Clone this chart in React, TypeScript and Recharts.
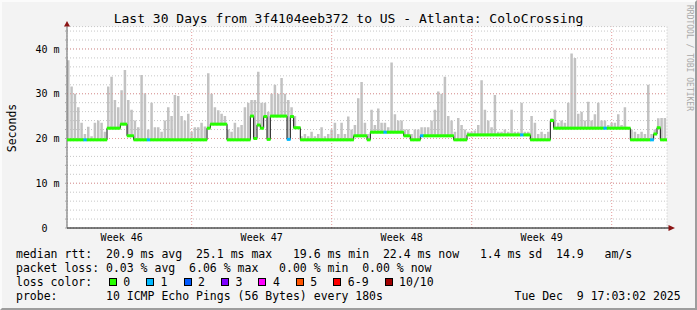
import React from 'react';
import { ComposedChart, Bar, Line, XAxis, YAxis, CartesianGrid, ReferenceLine, ReferenceDot } from 'recharts';

const mono = '"DejaVu Sans Mono", monospace';

// 30 days, one slot every 4 hours
const DAYS = 30;
const SLOTS_PER_DAY = 6;
const FIRST_MIDNIGHT = 0.235; // day offset of first midnight after the start

// median rtt per slot (ms)
const medianRtt = [
  19.7, 19.7, 19.7, 19.7, 19.7, 19.7, 19.7, 19.7, 19.7, 19.7, 19.7, 19.7,
  22.3, 22.3, 22.3, 22.3, 23.2, 23.2, 20.6, 20.6, 19.7, 19.7, 19.7, 19.7,
  19.7, 19.7, 19.7, 19.7, 19.7, 19.7, 19.7, 19.7, 19.7, 19.7, 19.7, 19.7,
  19.7, 19.7, 19.7, 19.7, 19.7, 19.7, 22.3, 23.2, 23.2, 23.2, 23.2, 23.2,
  19.7, 19.7, 19.7, 19.7, 19.7, 19.7, 19.7, 25.0, 20.0, 23.0, 22.3, 24.9,
  19.8, 25.0, 25.0, 25.0, 25.0, 25.0, 19.8, 24.9, 22.4, 22.4, 19.7, 19.7,
  19.7, 19.7, 19.7, 19.7, 19.7, 19.7, 19.7, 19.7, 19.7, 19.7, 19.7, 19.7,
  19.7, 19.7, 20.6, 20.6, 20.6, 20.6, 19.7, 21.4, 21.4, 21.4, 21.4, 21.4,
  21.4, 21.4, 21.4, 21.4, 21.4, 20.6, 20.6, 19.7, 19.7, 19.7, 20.6, 20.6,
  20.6, 20.6, 20.6, 20.6, 20.6, 20.6, 20.6, 20.6, 19.7, 19.7, 19.7, 19.7,
  20.8, 20.8, 20.8, 20.8, 20.8, 20.8, 20.8, 20.8, 20.8, 20.8, 20.8, 20.8,
  20.8, 20.8, 20.8, 20.8, 20.8, 20.8, 20.8, 19.7, 19.7, 19.7, 19.7, 19.7,
  19.7, 24.0, 22.3, 22.3, 22.3, 22.3, 22.3, 22.3, 22.3, 22.3, 22.3, 22.3,
  22.3, 22.3, 22.3, 22.3, 22.3, 22.3, 22.3, 22.3, 22.3, 22.3, 22.3, 22.3,
  22.3, 19.7, 19.7, 19.7, 19.7, 19.7, 19.7, 19.7, 21.0, 22.4, 19.7, 19.7,
];

// max ping per slot (top of the smoke)
const smokeMax = [
  37.5, 31.6, 30, 27, 23.5, 21, 22.6, 20.5, 23.5, 24, 23.5, 21.5,
  31.6, 33.8, 28.6, 27, 30.8, 35.3, 28.6, 26.4, 24, 22.5, 34.2, 30.1,
  22, 28, 22.5, 22.5, 21.5, 24, 27, 25, 29.7, 29.5, 25, 24,
  25.5, 21.5, 22.5, 22.5, 23.5, 22.7, 34.6, 30, 27, 26.3, 25.5, 25,
  22, 21.5, 23.5, 22.5, 23, 27, 28, 28.6, 28.6, 34.9, 28, 28,
  26, 30, 32, 30, 33.5, 30, 28.6, 27, 25, 22.5, 20.5, 21,
  20.5, 21.5, 20.5, 21, 22.5, 20.5, 21, 22, 23.5, 21, 23.5, 21,
  24.9, 22, 23, 29, 32.6, 23.5, 21, 26.4, 23, 26.7, 23.5, 23.5,
  22.5, 37, 25.4, 24, 24, 22, 22, 21, 22, 22, 22.5, 22.5,
  22.5, 24, 26.4, 30.5, 30, 33.8, 25, 24, 21.5, 24.6, 23, 22,
  21.5, 21.5, 21.8, 23, 33, 26.4, 24, 22.5, 29.7, 21.5, 21.5, 22,
  21.5, 26.4, 21.5, 21.5, 28, 21.5, 21.5, 25, 23.5, 21, 21.5, 21,
  21.5, 24.5, 26.4, 23.5, 24, 23.5, 28, 39, 38, 25.5, 26, 24,
  28.2, 24, 25.4, 28, 24, 24, 23, 23.5, 23.5, 25.4, 23, 27,
  22.5, 22, 21.5, 21, 21.5, 21, 32, 21, 22, 24.5, 24.6, 24.6,
];

// slots where 1 of 10 pings was lost
const lossOneSlots = [5, 24, 66, 95, 106, 136, 161, 175];

const weekLabels = ['Week 46', 'Week 47', 'Week 48', 'Week 49'];
const yTicks = [0, 2, 4, 6, 8, 10, 12, 14, 16, 18, 20, 22, 24, 26, 28, 30, 32, 34, 36, 38, 40, 42, 44];
const yMajor = [10, 20, 30, 40];

const lossLegend = [
  { label: '0', color: '#26ff00' },
  { label: '1', color: '#00b8ff' },
  { label: '2', color: '#0059ff' },
  { label: '3', color: '#7e00ff' },
  { label: '4', color: '#ff00ff' },
  { label: '5', color: '#ff5500' },
  { label: '6-9', color: '#ff0000' },
  { label: '10/10', color: '#a10000' },
];

const statsRtt = 'median rtt:  20.9 ms avg  25.1 ms max   19.6 ms min  22.4 ms now   1.4 ms sd  14.9   am/s';
const statsLoss = 'packet loss: 0.03 % avg  6.06 % max   0.00 % min  0.00 % now';
const probeText = 'probe:       10 ICMP Echo Pings (56 Bytes) every 180s                   Tue Dec  9 17:03:02 2025';

const dayTicks = Array.from({ length: DAYS }, (_, k) => FIRST_MIDNIGHT + k);
const weekStarts = [6, 13, 20, 27].map((d) => FIRST_MIDNIGHT + d);
const weekMids = weekStarts.map((d) => d - 3.5);

const rows = medianRtt.map((m, i) => ({
  t: (i + 0.5) / SLOTS_PER_DAY,
  median: m,
  smoke: [m, smokeMax[i]],
  loss: lossOneSlots.includes(i) ? 1 : 0,
}));

function renderYTick(props: any) {
  const { x, y, payload } = props;
  const v = payload.value;
  if (v % 10 !== 0) return <g />;
  const label = v === 0 ? '0  ' : `${v} m`;
  return (
    <text x={x} y={y} dy="0.355em" textAnchor="end" xmlSpace="preserve" style={{ whiteSpace: 'pre' }}
      fontSize={10} fontFamily={mono} fill="#000">
      {label}
    </text>
  );
}

function renderMedianDot(props: any) {
  const { cx, cy, payload, index } = props;
  return (
    <rect key={index} x={cx - 1.9} y={cy - 1.5} width={3.8} height={3}
      fill={lossLegend[payload.loss].color} />
  );
}

export default function App() {
  return (
    <div style={{
      position: 'absolute', left: 0, top: 0, width: 697, height: 310, boxSizing: 'border-box',
      background: '#f3f3f3', borderTop: '2px solid #fbfbfb', borderLeft: '2px solid #fbfbfb',
      borderRight: '2px solid #9d9d9d', borderBottom: '2px solid #9d9d9d', fontFamily: mono, color: '#000',
    }}>
      <ComposedChart width={697} height={310} data={rows}
        margin={{ top: 26.6, right: 30, bottom: 59, left: 0 }}
        style={{ position: 'absolute', left: -2, top: -2 }}>
        <CartesianGrid xAxisId="day" stroke="#c6c6c6" strokeDasharray="1 2" fill="#ffffff" />
        <XAxis xAxisId="day" dataKey="t" type="number" domain={[0, DAYS]} ticks={dayTicks} interval={0}
          tick={false} tickSize={2} height={3} allowDataOverflow
          axisLine={{ stroke: '#000' }} tickLine={{ stroke: '#aaa' }} />
        <XAxis xAxisId="wk" dataKey="t" type="number" domain={[0, DAYS]} ticks={weekMids} interval={0}
          allowDataOverflow
          tickFormatter={(_v: number, i: number) => weekLabels[i]} axisLine={false} tickLine={false}
          tickSize={0} tickMargin={3} height={20} tick={{ fontSize: 10, fontFamily: mono, fill: '#000' }} />
        <YAxis type="number" domain={[0, 45]} ticks={yTicks} interval={0} width={67} tickSize={2}
          tickMargin={5.5} tick={renderYTick} allowDataOverflow
          axisLine={{ stroke: '#666' }} tickLine={{ stroke: '#aaa' }} />
        {weekStarts.map((d) => (
          <ReferenceLine key={`w${d}`} xAxisId="day" x={d} stroke="#e49a9a" strokeDasharray="1 2" />
        ))}
        {yMajor.map((v) => (
          <ReferenceLine key={`y${v}`} xAxisId="day" y={v} stroke="#e49a9a" strokeDasharray="1 2" />
        ))}
        <Bar xAxisId="day" dataKey="smoke" fill="#c2c2c2" barSize={2.5} isAnimationActive={false} />
        <Line xAxisId="day" dataKey="median" type="step" stroke="#111" strokeWidth={1}
          dot={false} activeDot={false} isAnimationActive={false} />
        <Line xAxisId="day" dataKey="median" stroke="none" strokeWidth={0}
          dot={renderMedianDot} activeDot={false} isAnimationActive={false} />
        <ReferenceDot xAxisId="day" x={0} y={45} r={0} ifOverflow="visible"
          shape={(p: any) => (
            <path d={`M${p.cx - 3},${p.cy} L${p.cx + 3},${p.cy} L${p.cx},${p.cy - 5.5} Z`} fill="#8b1414" />
          )} />
        <ReferenceDot xAxisId="day" x={DAYS} y={0} r={0} ifOverflow="visible"
          shape={(p: any) => (
            <g>
              <line x1={p.cx} y1={p.cy} x2={p.cx + 2} y2={p.cy} stroke="#000" />
              <path d={`M${p.cx + 1.5},${p.cy - 3} L${p.cx + 1.5},${p.cy + 3} L${p.cx + 8},${p.cy} Z`} fill="#8b1414" />
            </g>
          )} />
      </ComposedChart>

      <div style={{ position: 'absolute', left: -2, top: 9, width: 697, textAlign: 'center', fontSize: 13, lineHeight: '16px', whiteSpace: 'pre' }}>
        Last 30 Days from 3f4104eeb372 to US - Atlanta: ColoCrossing
      </div>

      <div style={{
        position: 'absolute', left: 11.5 - 50 - 2, top: 127.5 - 7 - 2, width: 100, height: 14,
        lineHeight: '14px', fontSize: 11.5, textAlign: 'center', transform: 'rotate(-90deg)',
      }}>
        Seconds
      </div>

      <div style={{
        position: 'absolute', left: 682, top: 3, writingMode: 'vertical-rl', fontSize: 8,
        color: '#a8a8a8', whiteSpace: 'pre', lineHeight: '10px',
      }}>
        RRDTOOL / TOBI OETIKER
      </div>

      <div style={{ position: 'absolute', left: 14, top: 245, fontSize: 11.5, lineHeight: '14.1px', whiteSpace: 'pre' }}>
        <div>{statsRtt}</div>
        <div>{statsLoss}</div>
        <div style={{ display: 'flex', alignItems: 'center', height: 14.1 }}>
          <span style={{ marginRight: 16.5 }}>loss color:</span>
          {lossLegend.map((e) => (
            <span key={e.label} style={{ display: 'flex', alignItems: 'center', marginRight: 16 }}>
              <span style={{
                display: 'inline-block', width: 8, height: 8, boxSizing: 'border-box',
                border: '1px solid #000', background: e.color, marginRight: 6.5,
              }} />
              <span>{e.label}</span>
            </span>
          ))}
        </div>
        <div>{probeText}</div>
      </div>
    </div>
  );
}
